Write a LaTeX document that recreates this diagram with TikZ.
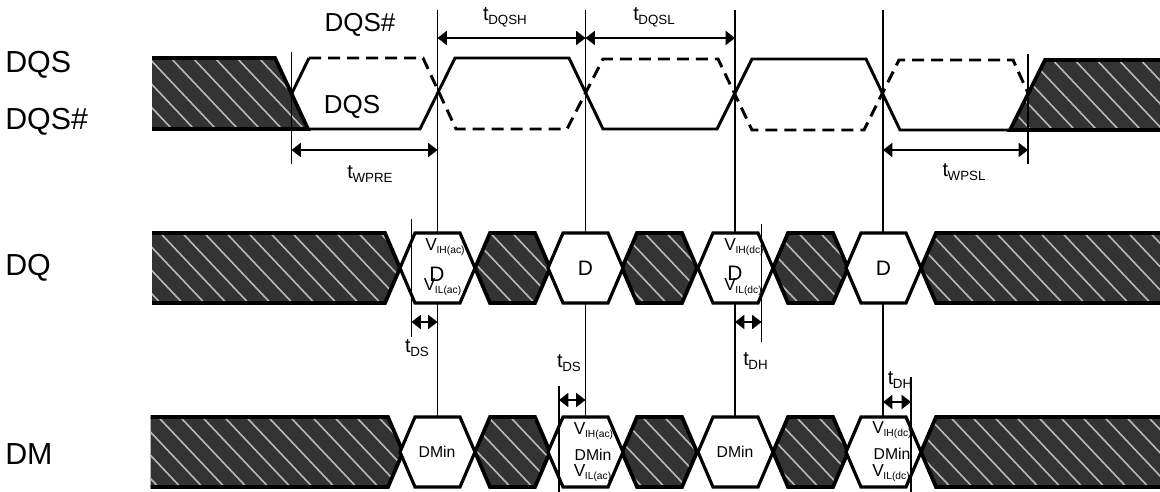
\documentclass[tikz,border=0pt]{standalone}
\usepackage{fontspec}
\setmainfont{Liberation Sans}
\usetikzlibrary{arrows.meta}
\newcommand{\tsub}[2]{{\fontsize{15}{17}\selectfont #1\kern-0.3pt\raisebox{-0.22em}{\fontsize{10}{11}\selectfont #2}}}
\newcommand{\vsub}[1]{{\fontsize{13}{15}\selectfont V\kern-0.3pt\raisebox{-0.16em}{\fontsize{7.7}{9}\selectfont #1}}}
\tikzset{
  x=0.75pt,y=-0.75pt,
  wave/.style={line width=2.2pt,line join=miter,black},
  wavedash/.style={line width=2.2pt,black,dash pattern=on 9pt off 5.25pt},
  guide/.style={line width=1.2pt,black},
  span/.style={line width=1.4pt,black,{Triangle[length=7pt,width=10.5pt]}-{Triangle[length=7pt,width=10.5pt]}},
  hexbox/.style={line width=2.4pt,fill=white,draw=black,line join=miter},
  hatchedge/.style={line width=2.8pt,draw=black,line join=miter},
  lab/.style={font=\fontsize{22.8}{25}\selectfont,anchor=west,inner sep=0pt},
  inlab/.style={font=\fontsize{19.5}{22}\selectfont,inner sep=0pt},
  ann/.style={inner sep=0pt},
  dtext/.style={font=\fontsize{15.7}{18}\selectfont,inner sep=0pt},
  mtext/.style={font=\fontsize{11.8}{14}\selectfont,inner sep=0pt},
}
\newcommand{\hatched}[1]{%
  \begin{scope}
    \clip #1;
    \fill[black!80] #1;
    \foreach \c in {-500,-478,...,1180}{
      \draw[line width=1.2pt,black!28] (\c,0) -- (\c+520,550);
    }
  \end{scope}
  \draw[hatchedge] #1;
}
% #1 left tip, #2 top y, #3 bottom y
\newcommand{\hex}[3]{(#1,#2+35) -- (#1+15,#2) -- (#1+60,#2) -- (#1+75,#2+35) -- (#1+60,#3) -- (#1+15,#3) -- cycle}
\begin{document}
\begin{tikzpicture}
\useasboundingbox (0,0) rectangle (1160,492);
% guides
\coordinate (g1t) at (437.5,10); \coordinate (g1b) at (437.5,417);
\coordinate (g2t) at (585.5,10); \coordinate (g2b) at (585.5,417);
\coordinate (g3t) at (735,10);   \coordinate (g3b) at (735,417);
\coordinate (g4t) at (883,10);   \coordinate (g4b) at (883,417);
\draw[guide] (g1t)--(g1b); \draw[guide] (g2t)--(g2b); \draw[guide] (g3t)--(g3b); \draw[guide] (g4t)--(g4b);
% DQS hatch
\hatched{(152,58) -- (275,58) -- (308,129) -- (152,129)}
\hatched{(1162,60) -- (1045,60) -- (1010,130) -- (1162,130)}
% DQS solid
\draw[wave] (292,93) -- (309,58);
\draw[wave] (308,129) -- (420,129) -- (455,58) -- (569,58) -- (603,129) -- (717,129) -- (752,59) -- (866,59) -- (900,130) -- (1010,130);
% DQS# dashed
\draw[wavedash] (309,58) -- (423,58) -- (456,129) -- (567,129) -- (603,59) -- (718,59) -- (752,130) -- (864,130) -- (899,60) -- (1013,60) -- (1028,93);
\draw[guide] (291.5,52) -- (291.5,164);
\draw[guide] (1028,54) -- (1028,164);
% annotations top
\coordinate (a1) at (291.5,150); \coordinate (a2) at (437.5,150);
\coordinate (a3) at (883,150);   \coordinate (a4) at (1028,150);
\coordinate (a5) at (437.5,38);  \coordinate (a6) at (585.5,38); \coordinate (a7) at (735,38);
\draw[span] (a1)--(a2); \draw[span] (a3)--(a4); \draw[span] (a5)--(a6); \draw[span] (a6)--(a7);
\node[ann] (twpre) at (370,174) {\tsub{t}{WPRE}};
\node[ann] (twpsl) at (964,172) {\tsub{t}{WPSL}};
\node[ann] (tdqsh) at (505,17) {\tsub{t}{DQSH}};
\node[ann] (tdqsl) at (654,17) {\tsub{t}{DQSL}};
\node[inlab] (dqssharp) at (360,25) {DQS\#};
\node[inlab] (dqsin) at (352,107) {DQS};
% labels
\node[lab] (l1) at (5,65) {DQS};
\node[lab] (l2) at (5,122) {DQS\#};
\node[lab] (l3) at (5,268) {DQ};
\node[lab] (l4) at (5,454) {DM};
% DQ row
\hatched{(152,233) -- (385,233) -- (400,268) -- (385,303) -- (152,303)}
\hatched{\hex{475}{233}{303}}
\hatched{\hex{622}{233}{303}}
\hatched{\hex{773}{233}{303}}
\hatched{(1162,233) -- (936,233) -- (921,268) -- (936,303) -- (1162,303)}
\draw[hexbox] \hex{400}{233}{303};
\draw[hexbox] \hex{548}{233}{303};
\draw[hexbox] \hex{698}{233}{303};
\draw[hexbox] \hex{846}{233}{303};
% DM row
\hatched{(150.5,417) -- (388,417) -- (403,452) -- (388,487) -- (150.5,487)}
\hatched{\hex{475}{417}{487}}
\hatched{\hex{622}{417}{487}}
\hatched{\hex{773}{417}{487}}
\hatched{(1162,417) -- (936,417) -- (921,452) -- (936,487) -- (1162,487)}
\draw[hexbox] \hex{400}{417}{487};
\draw[hexbox] \hex{548}{417}{487};
\draw[hexbox] \hex{698}{417}{487};
\draw[hexbox] \hex{846}{417}{487};
% tDS / tDH markers
\coordinate (m1a) at (411.5,219); \coordinate (m1b) at (411.5,337);
\coordinate (m2a) at (559,386);   \coordinate (m2b) at (559,492);
\coordinate (m3a) at (761.5,224); \coordinate (m3b) at (761.5,342);
\coordinate (m4a) at (911,377);   \coordinate (m4b) at (911,492);
\draw[guide] (m1a)--(m1b); \draw[guide] (m2a)--(m2b); \draw[guide] (m3a)--(m3b); \draw[guide] (m4a)--(m4b);
\coordinate (s1) at (411.5,322); \coordinate (s1e) at (437.5,322);
\coordinate (s2) at (559,400);   \coordinate (s2e) at (585.5,400);
\coordinate (s3) at (735,322);   \coordinate (s3e) at (761.5,322);
\coordinate (s4) at (883,402);   \coordinate (s4e) at (911,402);
\draw[span] (s1)--(s1e); \draw[span] (s2)--(s2e); \draw[span] (s3)--(s3e); \draw[span] (s4)--(s4e);
\node[ann] (ds1) at (417,348) {\tsub{t}{DS}};
\node[ann] (ds2) at (569,363) {\tsub{t}{DS}};
\node[ann] (dh1) at (755.5,361) {\tsub{t}{DH}};
\node[ann] (dh2) at (900,380) {\tsub{t}{DH}};
% hex text DQ
\node[ann] (v1) at (445,247) {\vsub{IH(ac)}};
\node[dtext] (d1) at (437,274) {D};
\node[ann] (v2) at (442.5,287) {\vsub{IL(ac)}};
\node[dtext] (d2) at (585.5,268) {D};
\node[ann] (v3) at (744,247) {\vsub{IH(dc)}};
\node[dtext] (d3) at (735,273) {D};
\node[ann] (v4) at (743,287) {\vsub{IL(dc)}};
\node[dtext] (d4) at (883.5,268) {D};
% hex text DM
\node[mtext] (dm1) at (437,452) {DMin};
\node[ann] (v5) at (593.5,431) {\vsub{IH(ac)}};
\node[mtext] (dm2) at (593,455) {DMin};
\node[ann] (v6) at (592.5,473) {\vsub{IL(ac)}};
\node[mtext] (dm3) at (735,452) {DMin};
\node[ann] (v7) at (892,430) {\vsub{IH(dc)}};
\node[mtext] (dm4) at (892,454) {DMin};
\node[ann] (v8) at (891,473) {\vsub{IL(dc)}};
\end{tikzpicture}
\end{document}
